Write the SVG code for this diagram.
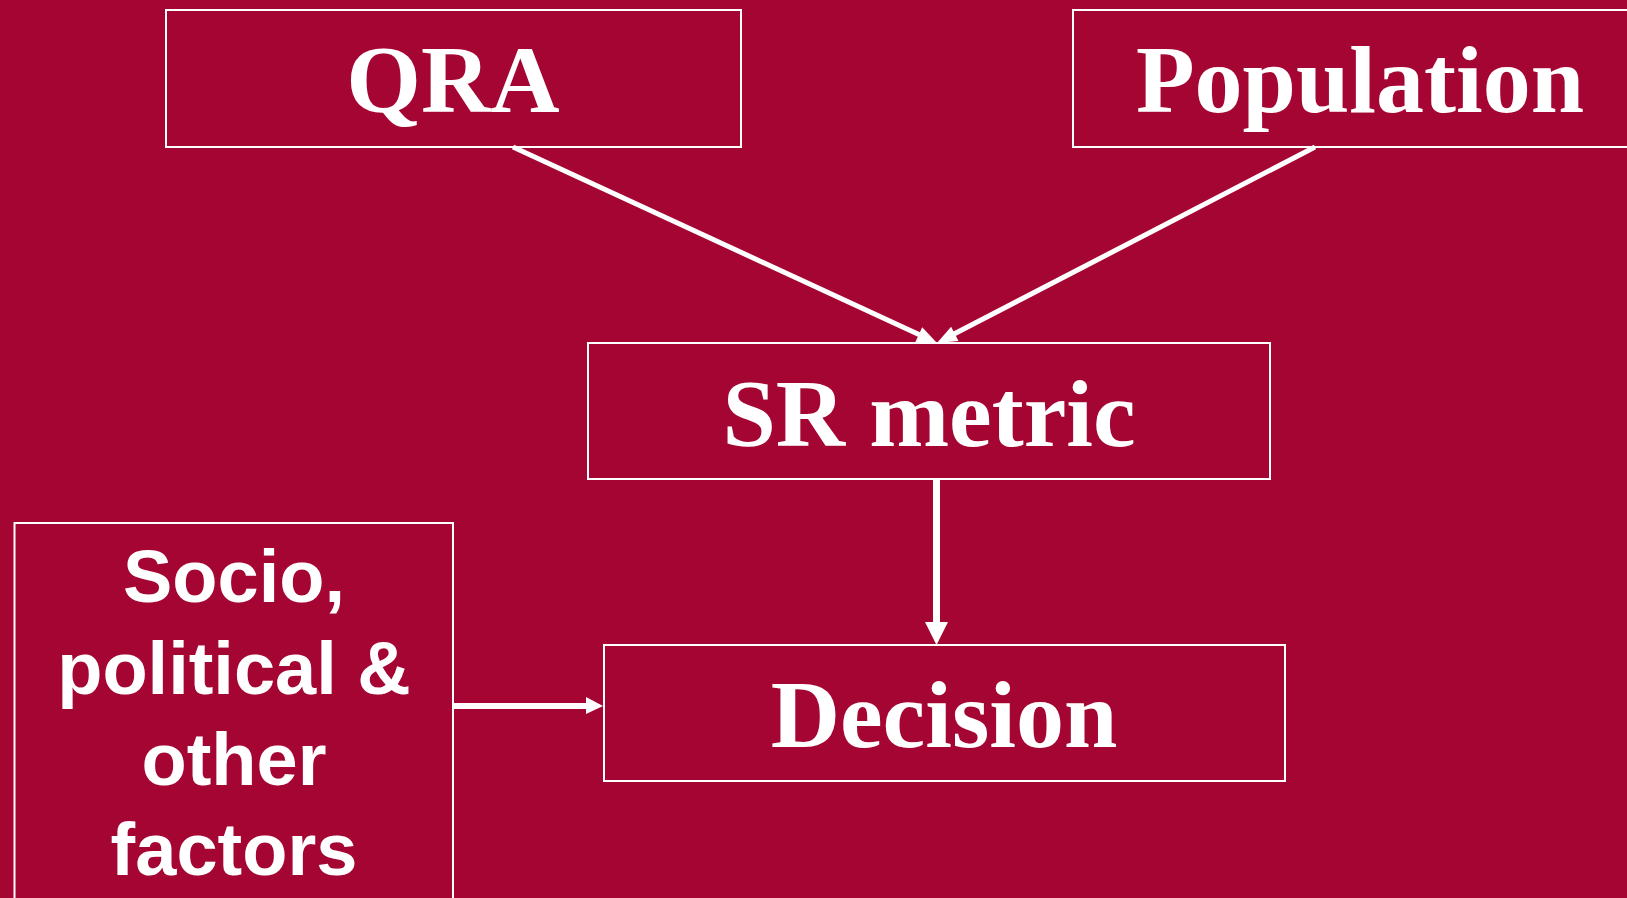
<svg xmlns="http://www.w3.org/2000/svg" width="1627" height="898" viewBox="0 0 1627 898">
<style>
.box{fill:none;stroke:#ffffff;stroke-width:2}
.t{font-family:"Liberation Serif","Times New Roman",serif;font-weight:bold;font-size:96px;fill:#ffffff;text-anchor:middle}
.s{font-family:"Liberation Sans",Arial,sans-serif;font-weight:bold;font-size:74px;fill:#ffffff;text-anchor:middle}
.c{stroke:#ffffff;fill:none}
.h{fill:#ffffff;stroke:none}
</style>
<rect x="0" y="0" width="1627" height="898" fill="#A50533"/>
<g id="qra">
<rect class="box" x="166" y="10" width="575" height="137"/>
<text class="t" x="453" y="112">QRA</text>
</g>
<g id="population">
<rect class="box" x="1073" y="10" width="580" height="137"/>
<text class="t" x="1360" y="112">Population</text>
</g>
<g id="srmetric">
<rect class="box" x="588" y="343" width="682" height="136"/>
<text class="t" x="929" y="446">SR metric</text>
</g>
<g id="decision">
<rect class="box" x="604" y="645" width="681" height="136"/>
<text class="t" x="944" y="747">Decision</text>
</g>
<g id="factors">
<rect class="box" x="14.5" y="523" width="438.5" height="400"/>
<text class="s" x="234" y="602">Socio,</text>
<text class="s" x="234" y="694">political &amp;</text>
<text class="s" x="234" y="785">other</text>
<text class="s" x="234" y="875">factors</text>
</g>
<g id="connectors">
<line class="c" stroke-width="5" x1="513" y1="147" x2="920" y2="335"/>
<polygon class="h" points="937,343 915.4,341.9 922.2,327.3"/>
<line class="c" stroke-width="5" x1="1315" y1="147" x2="954" y2="334"/>
<polygon class="h" points="937,343 958.5,340.9 951.1,326.7"/>
<line class="c" stroke-width="7" x1="936.5" y1="479" x2="936.5" y2="624"/>
<polygon class="h" points="925,622 948,622 936.5,645"/>
<line class="c" stroke-width="6" x1="453" y1="706" x2="588" y2="706"/>
<polygon class="h" points="586,697 586,714 603,706"/>
</g>
</svg>
